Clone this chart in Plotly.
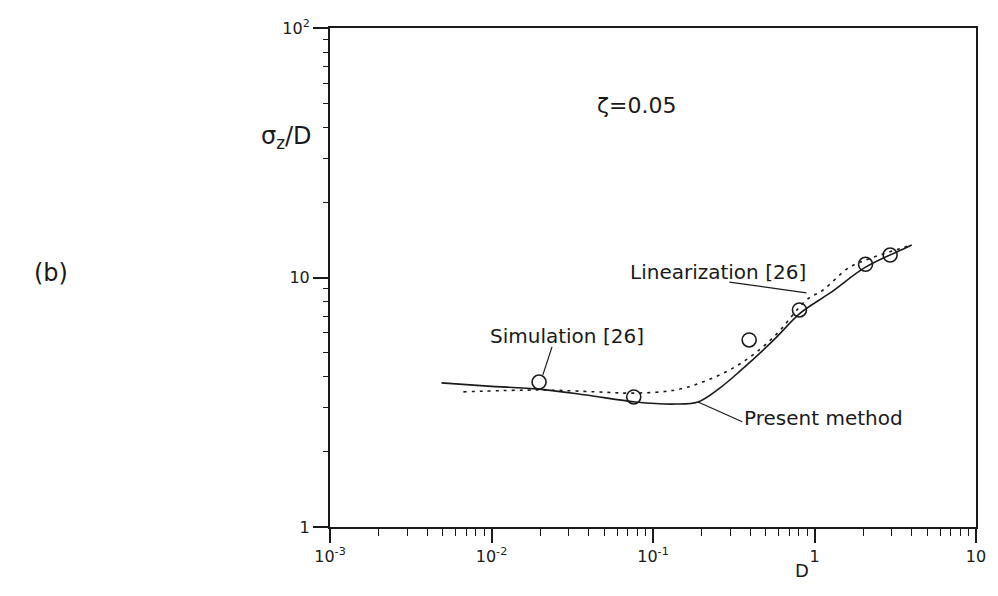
import plotly.graph_objects as go
import numpy as np

# Simulation results [26] (open circles)
sim_D = [0.0197, 0.076, 0.394, 0.807, 2.07, 2.94]
sim_sigma = [3.81, 3.32, 5.62, 7.41, 11.3, 12.3]

# Present method (solid curve)
present_D = [0.0049, 0.0095, 0.0197, 0.0387, 0.078, 0.137, 0.19, 0.26,
             0.352, 0.56, 0.819, 1.25, 2.07, 3.63, 4.0]
present_sigma = [3.78, 3.67, 3.57, 3.38, 3.17, 3.11, 3.17, 3.61,
                 4.26, 5.62, 7.21, 8.67, 11.0, 13.1, 13.5]

# Linearization [26] (dotted curve)
lin_D = [0.0067, 0.0197, 0.0446, 0.075, 0.137, 0.218, 0.352, 0.56,
         0.891, 1.13, 1.65, 2.28, 4.0]
lin_sigma = [3.48, 3.54, 3.48, 3.44, 3.54, 3.88, 4.54, 5.78,
             8.12, 8.91, 11.0, 12.0, 13.5]

# Leader lines from labels to curves (D, sigma pairs)
sim_leader_D = [0.0208, 0.0237]
sim_leader_sigma = [4.07, 5.27]
lin_leader_D = [0.297, 0.891]
lin_leader_sigma = [9.59, 8.67]
pres_leader_D = [0.190, 0.357]
pres_leader_sigma = [3.17, 2.64]

# Axis ticks
x_tickvals = [1e-3, 1e-2, 1e-1, 1, 10]
x_ticktext = ["10<sup>-3</sup>", "10<sup>-2</sup>", "10<sup>-1</sup>", "1", "10"]
y_tickvals = [1, 10, 100]
y_ticktext = ["1", "10", "10<sup>2</sup>"]

INK = "#1a1a1a"
FONT = "DejaVu Sans"

fig = go.Figure()

fig.add_trace(go.Scatter(x=present_D, y=present_sigma, mode="lines",
                         line=dict(color=INK, width=1.6, shape="spline"),
                         showlegend=False))
fig.add_trace(go.Scatter(x=lin_D, y=lin_sigma, mode="lines",
                         line=dict(color=INK, width=1.6, shape="spline", dash="3px,5px"),
                         showlegend=False))
fig.add_trace(go.Scatter(x=sim_D, y=sim_sigma, mode="markers",
                         marker=dict(symbol="circle-open", size=14, color=INK,
                                     line=dict(width=1.6, color=INK)),
                         showlegend=False))

for lx, ly in [(sim_leader_D, sim_leader_sigma),
               (lin_leader_D, lin_leader_sigma),
               (pres_leader_D, pres_leader_sigma)]:
    fig.add_trace(go.Scatter(x=lx, y=ly, mode="lines",
                             line=dict(color=INK, width=1.2),
                             showlegend=False))

# minor tick positions 2..9 within each decade
x_minor = [m * 10.0 ** e for e in range(-3, 1) for m in range(2, 10)]
y_minor = [m * 10.0 ** e for e in range(0, 2) for m in range(2, 10)]

fig.update_xaxes(type="log", range=[-3, 1], tickvals=x_tickvals, ticktext=x_ticktext,
                 ticks="outside", ticklen=14, tickwidth=1.5, tickcolor=INK,
                 minor=dict(tickvals=x_minor, ticks="outside", ticklen=7,
                            tickwidth=1.2, tickcolor=INK, showgrid=False),
                 showline=True, linewidth=2, linecolor=INK, mirror=True,
                 showgrid=False, zeroline=False,
                 tickfont=dict(family=FONT, size=16, color=INK))
fig.update_yaxes(type="log", range=[0, 2], tickvals=y_tickvals, ticktext=y_ticktext,
                 ticks="outside", ticklen=15, tickwidth=1.5, tickcolor=INK,
                 minor=dict(tickvals=y_minor, ticks="outside", ticklen=5,
                            tickwidth=1.2, tickcolor=INK, showgrid=False),
                 showline=True, linewidth=2, linecolor=INK, mirror=True,
                 showgrid=False, zeroline=False,
                 tickfont=dict(family=FONT, size=16, color=INK))

label_font = dict(family=FONT, size=20, color=INK)
annotations = [
    dict(text="ζ=0.05", x=np.log10(0.0793), y=1.691, xref="x", yref="y",
         showarrow=False, font=dict(family=FONT, size=22, color=INK)),
    dict(text="Simulation [26]", x=np.log10(0.0292), y=0.766, xref="x", yref="y",
         showarrow=False, font=label_font),
    dict(text="Linearization [26]", x=np.log10(0.916), y=1.022, xref="x", yref="y",
         xanchor="right", showarrow=False, font=label_font),
    dict(text="Present method", x=np.log10(0.357), y=0.437, xref="x", yref="y",
         xanchor="left", showarrow=False, font=label_font),
    dict(text="σ<sub>z</sub>/D", x=-0.110, y=0.816, xref="paper", yref="paper",
         showarrow=False, font=dict(family=FONT, size=24, color=INK)),
    dict(text="D", x=0.745, y=-0.112, xref="paper", yref="paper",
         showarrow=False, font=dict(family=FONT, size=18, color=INK)),
    dict(text="(b)", x=-0.461, y=0.509, xref="paper", yref="paper",
         showarrow=False, font=dict(family=FONT, size=24, color=INK)),
]

fig.update_layout(width=998, height=596,
                  margin=dict(l=330, r=13, t=28, b=69),
                  paper_bgcolor="white", plot_bgcolor="white",
                  annotations=annotations)

fig.write_html("out.html")
